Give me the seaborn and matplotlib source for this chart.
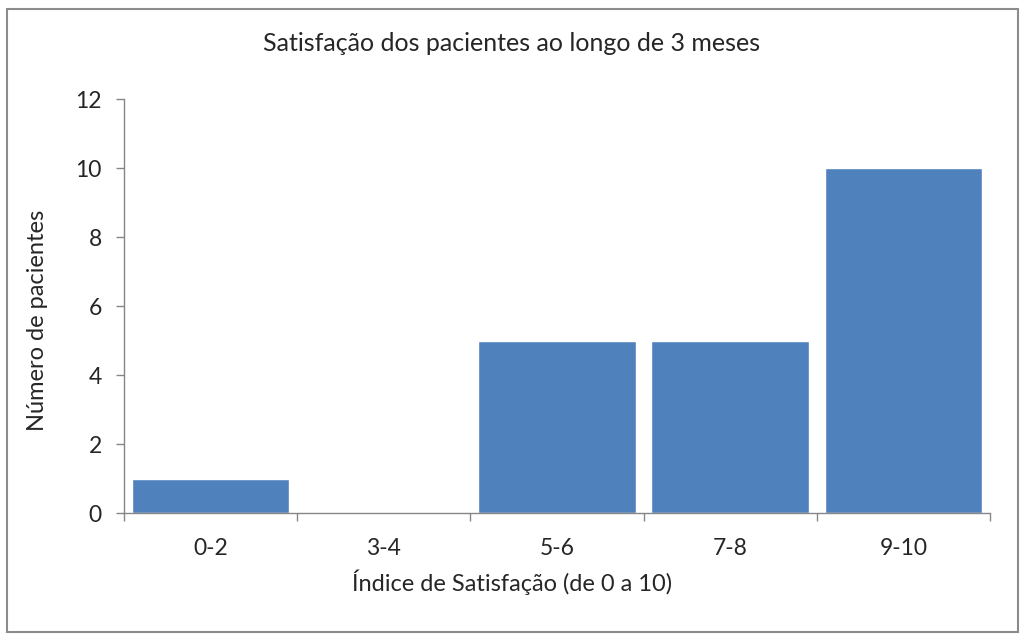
import matplotlib
matplotlib.use("Agg")
import matplotlib.pyplot as plt
import matplotlib.patches as mpatches
import numpy as np
import pandas as pd
import seaborn as sns

categorias = ["0-2", "3-4", "5-6", "7-8", "9-10"]
pacientes = [1, 0, 5, 5, 10]
y_ticks = [0, 2, 4, 6, 8, 10, 12]

sns.set_theme(style="white")
plt.rcParams['font.family'] = ['Lato', 'DejaVu Sans']

df = pd.DataFrame({"indice": categorias, "n": pacientes})

fig = plt.figure(figsize=(10.24, 6.43), dpi=100)
ax = fig.add_axes([0.121, 0.202, 0.846, 0.644])
sns.barplot(data=df, x="indice", y="n", color="#4F81BD", saturation=1,
            width=0.91, ax=ax)

ax.set_xlim(-0.5, len(categorias) - 0.5)
ax.set_ylim(0, 12)
ax.set_yticks(y_ticks)
ax.set_yticklabels([str(t) for t in y_ticks], fontsize=16.5)
ax.set_xticks(range(len(categorias)))
ax.set_xticklabels(categorias, fontsize=16.5)
ax.set_xticks(np.arange(-0.5, len(categorias), 1), minor=True)
ax.tick_params(axis="x", which="major", length=0, pad=18)
ax.tick_params(axis="x", which="minor", length=6, width=1, color="#868686", direction="out", bottom=True)
ax.tick_params(axis="y", length=6, width=1, color="#868686", direction="out", left=True, pad=10)

for s in ["top", "right"]:
    ax.spines[s].set_visible(False)
for s in ["left", "bottom"]:
    ax.spines[s].set_color("#868686")
    ax.spines[s].set_linewidth(1)

ax.set_xlabel("Índice de Satisfação (de 0 a 10)", fontsize=17)
ax.xaxis.set_label_coords(0.448, -0.136)
ax.set_ylabel("Número de pacientes", fontsize=17)
ax.yaxis.set_label_coords(-0.088, 0.466)
fig.text(0.5, 0.933, "Satisfação dos pacientes ao longo de 3 meses", ha="center",
         va="center", fontsize=18)

fig.patches.append(mpatches.Rectangle((0.007, 0.017), 0.987, 0.969, transform=fig.transFigure,
                                      fill=False, edgecolor="#8c8c8c", linewidth=1.5))

fig.savefig("out.png", dpi=100)
